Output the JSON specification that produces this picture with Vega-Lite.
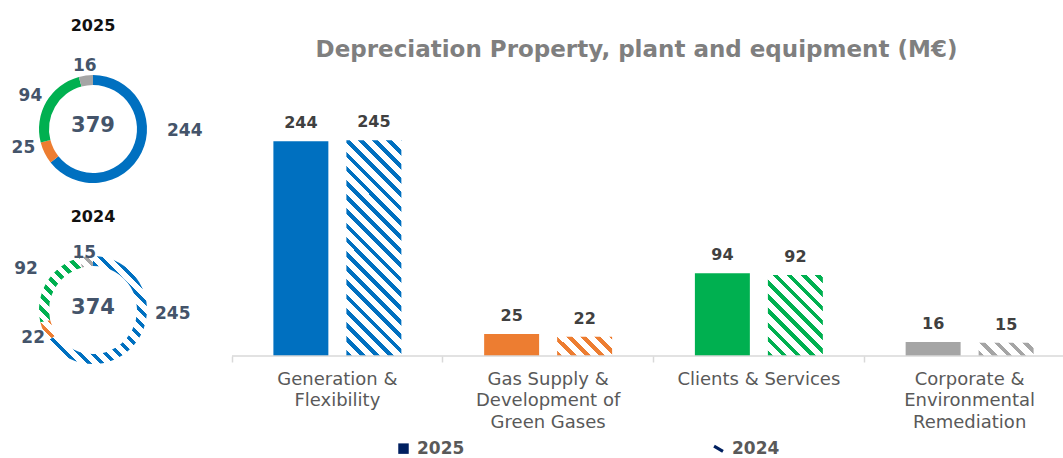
{
  "$schema": "https://vega.github.io/schema/vega-lite/v6.json",
  "background": "white",
  "padding": {"left": 0, "top": 17, "right": 0, "bottom": 0},
  "spacing": 28,
  "config": {"view": {"stroke": null}, "font": "DejaVu Sans"},
  "datasets": {
    "depr": [
      {"k": 1, "cat": "Generation & Flexibility", "year": "2025", "value": 244},
      {"k": 1, "cat": "Generation & Flexibility", "year": "2024", "value": 245},
      {"k": 2, "cat": "Gas Supply & Development of Green Gases", "year": "2025", "value": 25},
      {"k": 2, "cat": "Gas Supply & Development of Green Gases", "year": "2024", "value": 22},
      {"k": 3, "cat": "Clients & Services", "year": "2025", "value": 94},
      {"k": 3, "cat": "Clients & Services", "year": "2024", "value": 92},
      {"k": 4, "cat": "Corporate & Environmental Remediation", "year": "2025", "value": 16},
      {"k": 4, "cat": "Corporate & Environmental Remediation", "year": "2024", "value": 15}
    ]
  },
  "hconcat": [
    {
      "spacing": 26,
      "vconcat": [
        {
          "width": 186,
          "height": 106,
          "title": {"text": "2025", "font": "DejaVu Sans", "fontSize": 16, "fontWeight": "bold", "color": "#111111", "offset": 0, "anchor": "middle"},
          "data": {"name": "depr"},
          "transform": [{"filter": "datum.year == '2025'"}],
          "layer": [
            {
              "mark": {"type": "arc", "outerRadius": 54, "innerRadius": 44},
              "encoding": {
                "theta": {"field": "value", "type": "quantitative", "stack": true},
                "order": {"field": "k", "type": "quantitative"},
                "color": {"field": "cat", "type": "nominal", "legend": null,
                  "scale": {"domain": ["Generation & Flexibility", "Gas Supply & Development of Green Gases", "Clients & Services", "Corporate & Environmental Remediation"],
                            "range": ["#0070C0", "#ED7D31", "#00B050", "#A5A5A5"]}}
              }
            },
            {
              "mark": {"type": "text", "radius": 62, "dx": 36, "dy": -25, "fontSize": 17, "fontWeight": "bold", "color": "#44546A"},
              "encoding": {
                "theta": {"field": "value", "type": "quantitative", "stack": true},
                "order": {"field": "k", "type": "quantitative"},
                "text": {"condition": {"test": "datum.k == 1", "field": "value", "type": "quantitative"}, "value": ""}
              }
            },
            {
              "mark": {"type": "text", "radius": 62, "dx": -14, "dy": -9, "fontSize": 17, "fontWeight": "bold", "color": "#44546A"},
              "encoding": {
                "theta": {"field": "value", "type": "quantitative", "stack": true},
                "order": {"field": "k", "type": "quantitative"},
                "text": {"condition": {"test": "datum.k == 2", "field": "value", "type": "quantitative"}, "value": ""}
              }
            },
            {
              "mark": {"type": "text", "radius": 62, "dx": -9, "dy": -2, "fontSize": 17, "fontWeight": "bold", "color": "#44546A"},
              "encoding": {
                "theta": {"field": "value", "type": "quantitative", "stack": true},
                "order": {"field": "k", "type": "quantitative"},
                "text": {"condition": {"test": "datum.k == 3", "field": "value", "type": "quantitative"}, "value": ""}
              }
            },
            {
              "mark": {"type": "text", "radius": 62, "dx": 0, "dy": -2, "fontSize": 17, "fontWeight": "bold", "color": "#44546A"},
              "encoding": {
                "theta": {"field": "value", "type": "quantitative", "stack": true},
                "order": {"field": "k", "type": "quantitative"},
                "text": {"condition": {"test": "datum.k == 4", "field": "value", "type": "quantitative"}, "value": ""}
              }
            },
            {
              "transform": [{"aggregate": [{"op": "sum", "field": "value", "as": "total"}]}],
              "mark": {"type": "text", "dy": -3, "fontSize": 21, "fontWeight": "bold", "color": "#44546A"},
              "encoding": {"text": {"field": "total", "type": "quantitative"}}
            }
          ]
        },
        {
          "width": 186,
          "height": 106,
          "title": {"text": "2024", "font": "DejaVu Sans", "fontSize": 16, "fontWeight": "bold", "color": "#111111", "offset": -11, "anchor": "middle"},
          "data": {"name": "depr"},
          "transform": [{"filter": "datum.year == '2024'"}],
          "layer": [
            {
              "mark": {"type": "arc", "outerRadius": 54, "innerRadius": 44},
              "encoding": {
                "theta": {"field": "value", "type": "quantitative", "stack": true},
                "order": {"field": "k", "type": "quantitative"},
                "fill": {
                  "condition": [
                    {"test": "datum.k == 1", "value": {"gradient": "linear", "x1": 0, "y1": 1, "x2": 1.199, "y2": -0.312, "stops": [
                      {"offset": 0, "color": "#0070C0"}, {"offset": 0.02, "color": "#0070C0"}, {"offset": 0.02, "color": "#ffffff"}, {"offset": 0.05, "color": "#ffffff"},
                      {"offset": 0.05, "color": "#0070C0"}, {"offset": 0.07, "color": "#0070C0"}, {"offset": 0.07, "color": "#ffffff"}, {"offset": 0.1, "color": "#ffffff"},
                      {"offset": 0.1, "color": "#0070C0"}, {"offset": 0.12, "color": "#0070C0"}, {"offset": 0.12, "color": "#ffffff"}, {"offset": 0.15, "color": "#ffffff"},
                      {"offset": 0.15, "color": "#0070C0"}, {"offset": 0.17, "color": "#0070C0"}, {"offset": 0.17, "color": "#ffffff"}, {"offset": 0.2, "color": "#ffffff"},
                      {"offset": 0.2, "color": "#0070C0"}, {"offset": 0.22, "color": "#0070C0"}, {"offset": 0.22, "color": "#ffffff"}, {"offset": 0.25, "color": "#ffffff"},
                      {"offset": 0.25, "color": "#0070C0"}, {"offset": 0.27, "color": "#0070C0"}, {"offset": 0.27, "color": "#ffffff"}, {"offset": 0.3, "color": "#ffffff"},
                      {"offset": 0.3, "color": "#0070C0"}, {"offset": 0.32, "color": "#0070C0"}, {"offset": 0.32, "color": "#ffffff"}, {"offset": 0.35, "color": "#ffffff"},
                      {"offset": 0.35, "color": "#0070C0"}, {"offset": 0.37, "color": "#0070C0"}, {"offset": 0.37, "color": "#ffffff"}, {"offset": 0.4, "color": "#ffffff"},
                      {"offset": 0.4, "color": "#0070C0"}, {"offset": 0.42, "color": "#0070C0"}, {"offset": 0.42, "color": "#ffffff"}, {"offset": 0.45, "color": "#ffffff"},
                      {"offset": 0.45, "color": "#0070C0"}, {"offset": 0.47, "color": "#0070C0"}, {"offset": 0.47, "color": "#ffffff"}, {"offset": 0.5, "color": "#ffffff"},
                      {"offset": 0.5, "color": "#0070C0"}, {"offset": 0.52, "color": "#0070C0"}, {"offset": 0.52, "color": "#ffffff"}, {"offset": 0.55, "color": "#ffffff"},
                      {"offset": 0.55, "color": "#0070C0"}, {"offset": 0.57, "color": "#0070C0"}, {"offset": 0.57, "color": "#ffffff"}, {"offset": 0.6, "color": "#ffffff"},
                      {"offset": 0.6, "color": "#0070C0"}, {"offset": 0.62, "color": "#0070C0"}, {"offset": 0.62, "color": "#ffffff"}, {"offset": 0.65, "color": "#ffffff"},
                      {"offset": 0.65, "color": "#0070C0"}, {"offset": 0.67, "color": "#0070C0"}, {"offset": 0.67, "color": "#ffffff"}, {"offset": 0.7, "color": "#ffffff"},
                      {"offset": 0.7, "color": "#0070C0"}, {"offset": 0.72, "color": "#0070C0"}, {"offset": 0.72, "color": "#ffffff"}, {"offset": 0.75, "color": "#ffffff"},
                      {"offset": 0.75, "color": "#0070C0"}, {"offset": 0.77, "color": "#0070C0"}, {"offset": 0.77, "color": "#ffffff"}, {"offset": 0.8, "color": "#ffffff"}
                    ]}},
                    {"test": "datum.k == 2", "value": {"gradient": "linear", "x1": 0, "y1": 1, "x2": 6.21, "y2": -6.82, "stops": [
                      {"offset": 0, "color": "#ED7D31"}, {"offset": 0.02, "color": "#ED7D31"}, {"offset": 0.02, "color": "#ffffff"}, {"offset": 0.05, "color": "#ffffff"},
                      {"offset": 0.05, "color": "#ED7D31"}, {"offset": 0.07, "color": "#ED7D31"}, {"offset": 0.07, "color": "#ffffff"}, {"offset": 0.1, "color": "#ffffff"},
                      {"offset": 0.1, "color": "#ED7D31"}, {"offset": 0.12, "color": "#ED7D31"}, {"offset": 0.12, "color": "#ffffff"}, {"offset": 0.15, "color": "#ffffff"}
                    ]}},
                    {"test": "datum.k == 3", "value": {"gradient": "linear", "x1": 0, "y1": 1, "x2": 1.86, "y2": -1.791, "stops": [
                      {"offset": 0, "color": "#00B050"}, {"offset": 0.02, "color": "#00B050"}, {"offset": 0.02, "color": "#ffffff"}, {"offset": 0.05, "color": "#ffffff"},
                      {"offset": 0.05, "color": "#00B050"}, {"offset": 0.07, "color": "#00B050"}, {"offset": 0.07, "color": "#ffffff"}, {"offset": 0.1, "color": "#ffffff"},
                      {"offset": 0.1, "color": "#00B050"}, {"offset": 0.12, "color": "#00B050"}, {"offset": 0.12, "color": "#ffffff"}, {"offset": 0.15, "color": "#ffffff"},
                      {"offset": 0.15, "color": "#00B050"}, {"offset": 0.17, "color": "#00B050"}, {"offset": 0.17, "color": "#ffffff"}, {"offset": 0.2, "color": "#ffffff"},
                      {"offset": 0.2, "color": "#00B050"}, {"offset": 0.22, "color": "#00B050"}, {"offset": 0.22, "color": "#ffffff"}, {"offset": 0.25, "color": "#ffffff"},
                      {"offset": 0.25, "color": "#00B050"}, {"offset": 0.27, "color": "#00B050"}, {"offset": 0.27, "color": "#ffffff"}, {"offset": 0.3, "color": "#ffffff"},
                      {"offset": 0.3, "color": "#00B050"}, {"offset": 0.32, "color": "#00B050"}, {"offset": 0.32, "color": "#ffffff"}, {"offset": 0.35, "color": "#ffffff"},
                      {"offset": 0.35, "color": "#00B050"}, {"offset": 0.37, "color": "#00B050"}, {"offset": 0.37, "color": "#ffffff"}, {"offset": 0.4, "color": "#ffffff"},
                      {"offset": 0.4, "color": "#00B050"}, {"offset": 0.42, "color": "#00B050"}, {"offset": 0.42, "color": "#ffffff"}, {"offset": 0.45, "color": "#ffffff"}
                    ]}}
                  ],
                  "value": {"gradient": "linear", "x1": 0, "y1": 1, "x2": 11.25, "y2": -8.57, "stops": [
                    {"offset": 0, "color": "#A5A5A5"}, {"offset": 0.02, "color": "#A5A5A5"}, {"offset": 0.02, "color": "#ffffff"}, {"offset": 0.05, "color": "#ffffff"},
                    {"offset": 0.05, "color": "#A5A5A5"}, {"offset": 0.07, "color": "#A5A5A5"}, {"offset": 0.07, "color": "#ffffff"}, {"offset": 0.1, "color": "#ffffff"}
                  ]}
                }
              }
            },
            {
              "mark": {"type": "text", "radius": 62, "dx": 25, "dy": -25, "fontSize": 17, "fontWeight": "bold", "color": "#44546A"},
              "encoding": {
                "theta": {"field": "value", "type": "quantitative", "stack": true},
                "order": {"field": "k", "type": "quantitative"},
                "text": {"condition": {"test": "datum.k == 1", "field": "value", "type": "quantitative"}, "value": ""}
              }
            },
            {
              "mark": {"type": "text", "radius": 62, "dx": -3, "dy": 3, "fontSize": 17, "fontWeight": "bold", "color": "#44546A"},
              "encoding": {
                "theta": {"field": "value", "type": "quantitative", "stack": true},
                "order": {"field": "k", "type": "quantitative"},
                "text": {"condition": {"test": "datum.k == 2", "field": "value", "type": "quantitative"}, "value": ""}
              }
            },
            {
              "mark": {"type": "text", "radius": 62, "dx": -14, "dy": -9, "fontSize": 17, "fontWeight": "bold", "color": "#44546A"},
              "encoding": {
                "theta": {"field": "value", "type": "quantitative", "stack": true},
                "order": {"field": "k", "type": "quantitative"},
                "text": {"condition": {"test": "datum.k == 3", "field": "value", "type": "quantitative"}, "value": ""}
              }
            },
            {
              "mark": {"type": "text", "radius": 62, "dx": -1, "dy": 5, "fontSize": 17, "fontWeight": "bold", "color": "#44546A"},
              "encoding": {
                "theta": {"field": "value", "type": "quantitative", "stack": true},
                "order": {"field": "k", "type": "quantitative"},
                "text": {"condition": {"test": "datum.k == 4", "field": "value", "type": "quantitative"}, "value": ""}
              }
            },
            {
              "transform": [{"aggregate": [{"op": "sum", "field": "value", "as": "total"}]}],
              "mark": {"type": "text", "dy": -2, "fontSize": 21, "fontWeight": "bold", "color": "#44546A"},
              "encoding": {"text": {"field": "total", "type": "quantitative"}}
            }
          ]
        }
      ]
    },
    {
      "width": 831,
      "height": 280,
      "title": {"text": "Depreciation Property, plant and equipment (M€)", "font": "DejaVu Sans", "fontSize": 23, "fontWeight": "bold", "color": "#7F7F7F", "offset": 14, "anchor": "middle", "dx": -11},
      "data": {"name": "depr"},
      "layer": [
        {
          "mark": {"type": "bar"},
          "encoding": {
            "x": {"field": "cat", "type": "nominal",
              "sort": ["Generation & Flexibility", "Gas Supply & Development of Green Gases", "Clients & Services", "Corporate & Environmental Remediation"],
              "scale": {"range": [0, 843], "paddingInner": 0, "paddingOuter": 0},
              "axis": {
                "title": null, "domain": false, "ticks": true, "bandPosition": 0,
                "tickColor": "#D9D9D9", "tickSize": 6, "tickWidth": 1.5,
                "labelAngle": 0, "labelFont": "DejaVu Sans", "labelFontSize": 18,
                "labelColor": "#595959", "labelLineHeight": 21.5, "labelPadding": 8, "labelLimit": 400,
                "labelOverlap": false, "labelBound": false,
                "labelExpr": "datum.value == 'Generation & Flexibility' ? ['Generation &', 'Flexibility'] : datum.value == 'Clients & Services' ? ['Clients & Services'] : datum.value == 'Corporate & Environmental Remediation' ? ['Corporate &', 'Environmental', 'Remediation'] : ['Gas Supply &', 'Development of', 'Green Gases']"
              }
            },
            "xOffset": {"field": "year", "type": "nominal", "sort": ["2025", "2024"], "scale": {"paddingInner": 0.247, "paddingOuter": 0.567}},
            "y": {"field": "value", "type": "quantitative", "stack": null, "scale": {"domain": [0, 318], "nice": false}, "axis": null},
            "fill": {
              "field": "cat", "type": "nominal", "legend": null,
              "scale": {"domain": ["Generation & Flexibility", "Gas Supply & Development of Green Gases", "Clients & Services", "Corporate & Environmental Remediation"],
                        "range": ["#0070C0", "#ED7D31", "#00B050", "#A5A5A5"]},
              "condition": [
                {"test": "datum.year == '2024' && datum.k == 1", "value": {"gradient": "linear", "x1": 0, "y1": 1, "x2": 0.3152, "y2": -0.2363, "stops": [
                  {"offset": 0, "color": "#0070C0"}, {"offset": 0.02, "color": "#0070C0"}, {"offset": 0.02, "color": "#ffffff"}, {"offset": 0.05, "color": "#ffffff"},
                  {"offset": 0.05, "color": "#0070C0"}, {"offset": 0.07, "color": "#0070C0"}, {"offset": 0.07, "color": "#ffffff"}, {"offset": 0.1, "color": "#ffffff"},
                  {"offset": 0.1, "color": "#0070C0"}, {"offset": 0.12, "color": "#0070C0"}, {"offset": 0.12, "color": "#ffffff"}, {"offset": 0.15, "color": "#ffffff"},
                  {"offset": 0.15, "color": "#0070C0"}, {"offset": 0.17, "color": "#0070C0"}, {"offset": 0.17, "color": "#ffffff"}, {"offset": 0.2, "color": "#ffffff"},
                  {"offset": 0.2, "color": "#0070C0"}, {"offset": 0.22, "color": "#0070C0"}, {"offset": 0.22, "color": "#ffffff"}, {"offset": 0.25, "color": "#ffffff"},
                  {"offset": 0.25, "color": "#0070C0"}, {"offset": 0.27, "color": "#0070C0"}, {"offset": 0.27, "color": "#ffffff"}, {"offset": 0.3, "color": "#ffffff"},
                  {"offset": 0.3, "color": "#0070C0"}, {"offset": 0.32, "color": "#0070C0"}, {"offset": 0.32, "color": "#ffffff"}, {"offset": 0.35, "color": "#ffffff"},
                  {"offset": 0.35, "color": "#0070C0"}, {"offset": 0.37, "color": "#0070C0"}, {"offset": 0.37, "color": "#ffffff"}, {"offset": 0.4, "color": "#ffffff"},
                  {"offset": 0.4, "color": "#0070C0"}, {"offset": 0.42, "color": "#0070C0"}, {"offset": 0.42, "color": "#ffffff"}, {"offset": 0.45, "color": "#ffffff"},
                  {"offset": 0.45, "color": "#0070C0"}, {"offset": 0.47, "color": "#0070C0"}, {"offset": 0.47, "color": "#ffffff"}, {"offset": 0.5, "color": "#ffffff"},
                  {"offset": 0.5, "color": "#0070C0"}, {"offset": 0.52, "color": "#0070C0"}, {"offset": 0.52, "color": "#ffffff"}, {"offset": 0.55, "color": "#ffffff"},
                  {"offset": 0.55, "color": "#0070C0"}, {"offset": 0.57, "color": "#0070C0"}, {"offset": 0.57, "color": "#ffffff"}, {"offset": 0.6, "color": "#ffffff"},
                  {"offset": 0.6, "color": "#0070C0"}, {"offset": 0.62, "color": "#0070C0"}, {"offset": 0.62, "color": "#ffffff"}, {"offset": 0.65, "color": "#ffffff"},
                  {"offset": 0.65, "color": "#0070C0"}, {"offset": 0.67, "color": "#0070C0"}, {"offset": 0.67, "color": "#ffffff"}, {"offset": 0.7, "color": "#ffffff"},
                  {"offset": 0.7, "color": "#0070C0"}, {"offset": 0.72, "color": "#0070C0"}, {"offset": 0.72, "color": "#ffffff"}, {"offset": 0.75, "color": "#ffffff"},
                  {"offset": 0.75, "color": "#0070C0"}, {"offset": 0.77, "color": "#0070C0"}, {"offset": 0.77, "color": "#ffffff"}, {"offset": 0.8, "color": "#ffffff"},
                  {"offset": 0.8, "color": "#0070C0"}, {"offset": 0.82, "color": "#0070C0"}, {"offset": 0.82, "color": "#ffffff"}, {"offset": 0.85, "color": "#ffffff"},
                  {"offset": 0.85, "color": "#0070C0"}, {"offset": 0.87, "color": "#0070C0"}, {"offset": 0.87, "color": "#ffffff"}, {"offset": 0.9, "color": "#ffffff"},
                  {"offset": 0.9, "color": "#0070C0"}, {"offset": 0.92, "color": "#0070C0"}, {"offset": 0.92, "color": "#ffffff"}, {"offset": 0.95, "color": "#ffffff"},
                  {"offset": 0.95, "color": "#0070C0"}, {"offset": 0.97, "color": "#0070C0"}, {"offset": 0.97, "color": "#ffffff"}, {"offset": 1, "color": "#ffffff"}
                ]}},
                {"test": "datum.year == '2024' && datum.k == 2", "value": {"gradient": "linear", "x1": 0, "y1": 1, "x2": 4.593, "y2": -0.62, "stops": [
                  {"offset": 0, "color": "#ED7D31"}, {"offset": 0.02, "color": "#ED7D31"}, {"offset": 0.02, "color": "#ffffff"}, {"offset": 0.05, "color": "#ffffff"},
                  {"offset": 0.05, "color": "#ED7D31"}, {"offset": 0.07, "color": "#ED7D31"}, {"offset": 0.07, "color": "#ffffff"}, {"offset": 0.1, "color": "#ffffff"},
                  {"offset": 0.1, "color": "#ED7D31"}, {"offset": 0.12, "color": "#ED7D31"}, {"offset": 0.12, "color": "#ffffff"}, {"offset": 0.15, "color": "#ffffff"},
                  {"offset": 0.15, "color": "#ED7D31"}, {"offset": 0.17, "color": "#ED7D31"}, {"offset": 0.17, "color": "#ffffff"}, {"offset": 0.2, "color": "#ffffff"},
                  {"offset": 0.2, "color": "#ED7D31"}, {"offset": 0.22, "color": "#ED7D31"}, {"offset": 0.22, "color": "#ffffff"}, {"offset": 0.25, "color": "#ffffff"},
                  {"offset": 0.25, "color": "#ED7D31"}, {"offset": 0.27, "color": "#ED7D31"}, {"offset": 0.27, "color": "#ffffff"}, {"offset": 0.3, "color": "#ffffff"}
                ]}},
                {"test": "datum.year == '2024' && datum.k == 3", "value": {"gradient": "linear", "x1": 0, "y1": 1, "x2": 1.6295, "y2": -1.3998, "stops": [
                  {"offset": 0, "color": "#00B050"}, {"offset": 0.02, "color": "#00B050"}, {"offset": 0.02, "color": "#ffffff"}, {"offset": 0.05, "color": "#ffffff"},
                  {"offset": 0.05, "color": "#00B050"}, {"offset": 0.07, "color": "#00B050"}, {"offset": 0.07, "color": "#ffffff"}, {"offset": 0.1, "color": "#ffffff"},
                  {"offset": 0.1, "color": "#00B050"}, {"offset": 0.12, "color": "#00B050"}, {"offset": 0.12, "color": "#ffffff"}, {"offset": 0.15, "color": "#ffffff"},
                  {"offset": 0.15, "color": "#00B050"}, {"offset": 0.17, "color": "#00B050"}, {"offset": 0.17, "color": "#ffffff"}, {"offset": 0.2, "color": "#ffffff"},
                  {"offset": 0.2, "color": "#00B050"}, {"offset": 0.22, "color": "#00B050"}, {"offset": 0.22, "color": "#ffffff"}, {"offset": 0.25, "color": "#ffffff"},
                  {"offset": 0.25, "color": "#00B050"}, {"offset": 0.27, "color": "#00B050"}, {"offset": 0.27, "color": "#ffffff"}, {"offset": 0.3, "color": "#ffffff"},
                  {"offset": 0.3, "color": "#00B050"}, {"offset": 0.32, "color": "#00B050"}, {"offset": 0.32, "color": "#ffffff"}, {"offset": 0.35, "color": "#ffffff"},
                  {"offset": 0.35, "color": "#00B050"}, {"offset": 0.37, "color": "#00B050"}, {"offset": 0.37, "color": "#ffffff"}, {"offset": 0.4, "color": "#ffffff"},
                  {"offset": 0.4, "color": "#00B050"}, {"offset": 0.42, "color": "#00B050"}, {"offset": 0.42, "color": "#ffffff"}, {"offset": 0.45, "color": "#ffffff"},
                  {"offset": 0.45, "color": "#00B050"}, {"offset": 0.47, "color": "#00B050"}, {"offset": 0.47, "color": "#ffffff"}, {"offset": 0.5, "color": "#ffffff"}
                ]}},
                {"test": "datum.year == '2024' && datum.k == 4", "value": {"gradient": "linear", "x1": 0, "y1": 1, "x2": 4.8825, "y2": -0.1718, "stops": [
                  {"offset": 0, "color": "#A5A5A5"}, {"offset": 0.02, "color": "#A5A5A5"}, {"offset": 0.02, "color": "#ffffff"}, {"offset": 0.05, "color": "#ffffff"},
                  {"offset": 0.05, "color": "#A5A5A5"}, {"offset": 0.07, "color": "#A5A5A5"}, {"offset": 0.07, "color": "#ffffff"}, {"offset": 0.1, "color": "#ffffff"},
                  {"offset": 0.1, "color": "#A5A5A5"}, {"offset": 0.12, "color": "#A5A5A5"}, {"offset": 0.12, "color": "#ffffff"}, {"offset": 0.15, "color": "#ffffff"},
                  {"offset": 0.15, "color": "#A5A5A5"}, {"offset": 0.17, "color": "#A5A5A5"}, {"offset": 0.17, "color": "#ffffff"}, {"offset": 0.2, "color": "#ffffff"},
                  {"offset": 0.2, "color": "#A5A5A5"}, {"offset": 0.22, "color": "#A5A5A5"}, {"offset": 0.22, "color": "#ffffff"}, {"offset": 0.25, "color": "#ffffff"}
                ]}}
              ]
            }
          }
        },
        {
          "mark": {"type": "text", "dy": -18, "baseline": "middle", "fontSize": 16, "fontWeight": "bold", "color": "#404040"},
          "encoding": {
            "x": {"field": "cat", "type": "nominal", "sort": ["Generation & Flexibility", "Gas Supply & Development of Green Gases", "Clients & Services", "Corporate & Environmental Remediation"]},
            "xOffset": {"field": "year", "type": "nominal", "sort": ["2025", "2024"]},
            "y": {"field": "value", "type": "quantitative", "stack": null},
            "text": {"field": "value", "type": "quantitative"}
          }
        },
        {
          "mark": {"type": "point", "filled": true, "opacity": 0, "color": "#002060"},
          "encoding": {
            "x": {"field": "cat", "type": "nominal", "sort": ["Generation & Flexibility", "Gas Supply & Development of Green Gases", "Clients & Services", "Corporate & Environmental Remediation"]},
            "xOffset": {"field": "year", "type": "nominal", "sort": ["2025", "2024"]},
            "y": {"field": "value", "type": "quantitative", "stack": null},
            "shape": {
              "field": "year", "type": "nominal",
              "scale": {"domain": ["2025", "2024"], "range": ["square", "M-1,-0.25L-0.7,-0.75L1,0.25L0.7,0.75Z"]},
              "legend": {
                "orient": "none", "legendX": 395, "legendY": 364, "direction": "horizontal", "title": null,
                "columnPadding": 245, "labelFont": "DejaVu Sans", "labelFontSize": 17, "labelFontWeight": "bold",
                "labelColor": "#595959", "labelOffset": 5, "symbolSize": 110,
                "encode": {
                  "symbols": {
                    "update": {
                      "fill": {"value": "#002060"},
                      "opacity": {"value": 1},
                      "fillOpacity": {"value": 1}
                    }
                  }
                }
              }
            }
          }
        },
        {
          "data": {"values": [{}]},
          "mark": {"type": "rule", "color": "#D9D9D9", "strokeWidth": 1.5},
          "encoding": {"y": {"datum": 0}}
        }
      ]
    }
  ]
}
